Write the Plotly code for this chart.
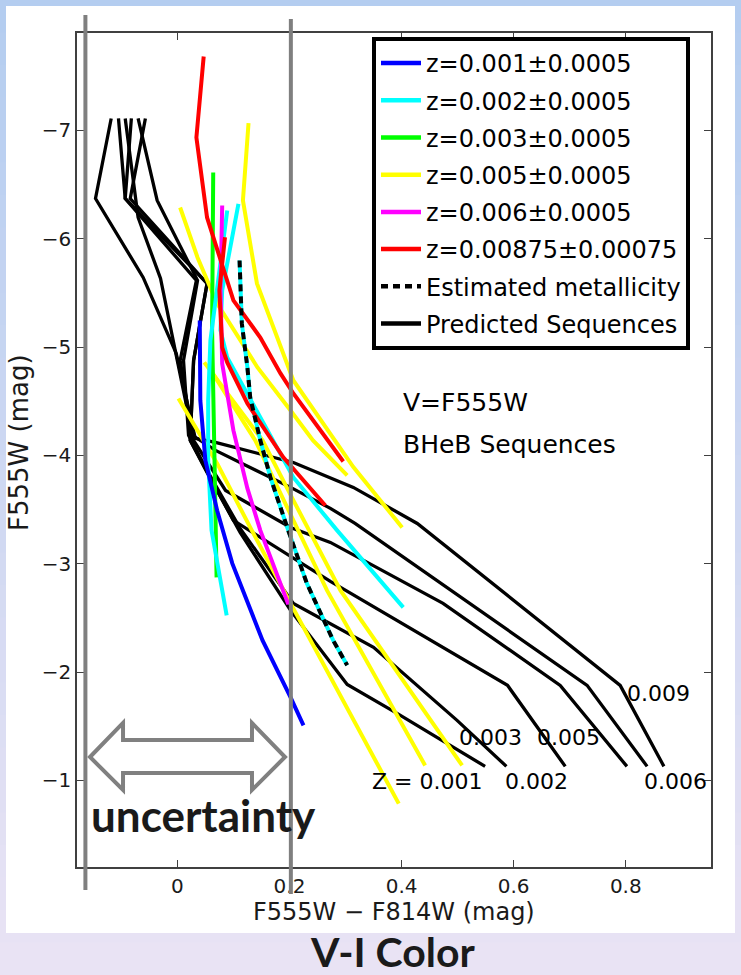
import plotly.graph_objects as go

FONT = "DejaVu Sans, Liberation Sans, sans-serif"
BOLD = "Lato, 'Open Sans', sans-serif"

# ---------------- data ----------------
x_ticks = [0, 0.2, 0.4, 0.6, 0.8]
x_tick_text = ["0", "0.2", "0.4", "0.6", "0.8"]
y_ticks = [-7, -6, -5, -4, -3, -2, -1]
y_tick_text = ["\u22127", "\u22126", "\u22125", "\u22124", "\u22123", "\u22122", "\u22121"]

blue_x = [0.040, 0.041, 0.050, 0.071, 0.098, 0.152, 0.202, 0.225]
blue_y = [-5.246, -4.508, -3.954, -3.492, -3.003, -2.292, -1.766, -1.508]

cyan1_x = [0.089, 0.073, 0.059, 0.055, 0.055, 0.061, 0.088]
cyan1_y = [-6.262, -5.616, -5.062, -4.508, -3.954, -3.308, -2.523]
cyan2_x = [0.109, 0.080, 0.077, 0.089, 0.207, 0.285, 0.403]
cyan2_y = [-6.323, -5.523, -5.154, -4.905, -3.797, -3.308, -2.597]
est_x = [0.111, 0.115, 0.125, 0.130, 0.148, 0.166, 0.196, 0.231, 0.278, 0.303]
est_y = [-5.800, -5.219, -4.812, -4.535, -4.139, -3.797, -3.335, -2.819, -2.292, -2.062]

green_x = [0.064, 0.062, 0.066, 0.068, 0.070]
green_y = [-6.613, -5.154, -4.046, -3.308, -2.874]

magenta_x = [0.080, 0.077, 0.080, 0.100, 0.125, 0.148, 0.198]
magenta_y = [-6.308, -5.523, -4.849, -4.231, -3.695, -3.308, -2.625]

red1_x = [0.047, 0.034, 0.053, 0.100, 0.148, 0.184, 0.207, 0.296]
red1_y = [-7.683, -6.936, -6.197, -5.431, -5.089, -4.757, -4.572, -3.944]
red2_x = [0.085, 0.075, 0.080, 0.089, 0.125, 0.189, 0.264]
red2_y = [-6.015, -5.523, -4.997, -4.859, -4.480, -3.982, -3.538]

yel1_x = [0.127, 0.117, 0.142, 0.173, 0.207, 0.314, 0.401]
yel1_y = [-7.068, -6.354, -5.588, -5.154, -4.692, -3.892, -3.335]
yel2_x = [0.005, 0.036, 0.071, 0.143, 0.202, 0.242, 0.303]
yel2_y = [-6.289, -5.828, -5.403, -4.812, -4.415, -4.139, -3.815]
yel3_x = [0.048, 0.152, 0.207, 0.291, 0.508]
yel3_y = [-4.859, -4.139, -3.585, -2.754, -1.138]
yel4_x = [0.002, 0.071, 0.130, 0.202, 0.395]
yel4_y = [-4.526, -3.926, -3.335, -2.634, -0.785]
yel5_x = [0.053, 0.139, 0.207, 0.267, 0.442]
yel5_y = [-4.840, -4.139, -3.400, -2.754, -1.138]

seq1_x = [-0.118, -0.146, -0.061, -0.002, 0.032, 0.068, 0.207, 0.314, 0.428, 0.790, 0.868]
seq1_y = [-7.111, -6.372, -5.643, -4.942, -4.157, -4.120, -3.935, -3.705, -3.372, -1.877, -1.129]
seq2_x = [-0.105, -0.093, 0.034, 0.005, 0.027, 0.068, 0.202, 0.273, 0.317, 0.731, 0.838]
seq2_y = [-7.111, -6.372, -5.616, -4.877, -4.185, -4.046, -3.705, -3.511, -3.372, -1.877, -1.129]
seq3_x = [-0.093, -0.070, -0.030, -0.002, 0.029, 0.086, 0.202, 0.273, 0.474, 0.683, 0.802]
seq3_y = [-7.111, -6.197, -5.634, -4.942, -4.139, -3.677, -3.335, -3.197, -2.634, -1.877, -1.129]
seq4_x = [-0.082, -0.093, 0.053, 0.029, 0.023, 0.100, 0.273, 0.392, 0.589, 0.692]
seq4_y = [-7.111, -6.372, -5.588, -4.877, -4.139, -3.400, -2.837, -2.477, -1.877, -1.129]
seq5_x = [-0.070, -0.036, 0.036, 0.011, 0.020, 0.053, 0.112, 0.207, 0.350, 0.499, 0.587]
seq5_y = [-7.111, -6.354, -5.616, -4.877, -4.185, -3.862, -3.326, -2.634, -2.228, -1.554, -1.129]
seq6_x = [-0.057, -0.084, 0.053, 0.029, 0.023, 0.053, 0.112, 0.202, 0.303, 0.392, 0.549]
seq6_y = [-7.111, -6.372, -5.588, -4.877, -4.139, -3.843, -3.289, -2.569, -1.886, -1.618, -1.129]

seq_labels = ["0.009", "0.003", "0.005", "Z = 0.001", "0.002", "0.006"]
seq_label_x = [0.858, 0.558, 0.697, 0.446, 0.640, 0.888]
seq_label_y = [-1.803, -1.397, -1.397, -0.991, -0.991, -0.991]

legend_names = ["z=0.001\u00b10.0005", "z=0.002\u00b10.0005", "z=0.003\u00b10.0005",
                "z=0.005\u00b10.0005", "z=0.006\u00b10.0005", "z=0.00875\u00b10.00075",
                "Estimated metallicity", "Predicted Sequences"]
legend_colors = ["#0000ff", "#00ffff", "#00ff00", "#ffff00", "#ff00ff", "#ff0000",
                 "black", "black"]
legend_dashes = ["solid"] * 6 + ["7px,5px", "solid"]

uncert_bounds = [-0.164, 0.2025]

# ---------------- figure ----------------
fig = go.Figure()

# legend entries (legend-only traces)
for i, (nm, col, ds) in enumerate(zip(legend_names, legend_colors, legend_dashes)):
    fig.add_trace(go.Scatter(x=[None], y=[None], mode="lines", name=nm,
                             line=dict(color=col, width=4.5, dash=ds),
                             legendgroup="g%d" % i, showlegend=True, hoverinfo="skip"))


def add_line(x, y, color, width, dash="solid"):
    fig.add_trace(go.Scatter(x=x, y=y, mode="lines",
                             line=dict(color=color, width=width, dash=dash),
                             showlegend=False, hoverinfo="skip"))


for sx, sy in [(seq1_x, seq1_y), (seq2_x, seq2_y), (seq3_x, seq3_y),
               (seq4_x, seq4_y), (seq5_x, seq5_y), (seq6_x, seq6_y)]:
    add_line(sx, sy, "black", 3.3)

for yx, yy in [(yel1_x, yel1_y), (yel2_x, yel2_y), (yel3_x, yel3_y),
               (yel4_x, yel4_y), (yel5_x, yel5_y)]:
    add_line(yx, yy, "#ffff00", 4)

add_line(green_x, green_y, "#00ff00", 4)
for cx, cy in [(cyan1_x, cyan1_y), (cyan2_x, cyan2_y), (est_x, est_y)]:
    add_line(cx, cy, "#00ffff", 4)
add_line(magenta_x, magenta_y, "#ff00ff", 4)
add_line(blue_x, blue_y, "#0000ff", 4)
for rx, ry in [(red1_x, red1_y), (red2_x, red2_y)]:
    add_line(rx, ry, "#ff0000", 4)
add_line(est_x, est_y, "black", 4, dash="7px,5px")

# ---------------- decorations ----------------
W, H = 741, 975
L, R, T, B = 77, 30, 33, 108
PW, PH = W - L - R, H - T - B


def px(xp):
    return (xp - L) / PW


def py(yp):
    return (H - B - yp) / PH


shapes = []
top_c = (180, 205, 240)
bot_c = (233, 227, 244)
n = 30
for i in range(n):
    f = i / (n - 1)
    c = tuple(int(round(top_c[k] + (bot_c[k] - top_c[k]) * f)) for k in range(3))
    y0p = H * i / n
    y1p = H * (i + 1) / n + 1
    shapes.append(dict(type="rect", xref="paper", yref="paper", layer="below",
                       x0=px(0), x1=px(W), y0=py(y1p), y1=py(y0p),
                       line=dict(width=0), fillcolor="rgb(%d,%d,%d)" % c))
shapes.append(dict(type="rect", xref="paper", yref="paper", layer="below",
                   x0=px(6), x1=px(735), y0=py(933), y1=py(6),
                   line=dict(width=0), fillcolor="white"))

shapes.append(dict(type="line", xref="x", yref="paper", x0=uncert_bounds[0], x1=uncert_bounds[0],
                   y0=py(890), y1=py(15), line=dict(color="#7f7f7f", width=4), layer="above"))
shapes.append(dict(type="line", xref="x", yref="paper", x0=uncert_bounds[1], x1=uncert_bounds[1],
                   y0=py(894), y1=py(19), line=dict(color="#7f7f7f", width=4), layer="above"))

arrow_pts = [(90, 757), (123, 723), (123, 740), (252, 740), (252, 723), (285, 757),
             (252, 790), (252, 773), (123, 773), (123, 790)]
path = "M " + " L ".join("%.4f,%.4f" % (px(a), py(b)) for a, b in arrow_pts) + " Z"
shapes.append(dict(type="path", xref="paper", yref="paper", path=path,
                   line=dict(color="#808080", width=4), fillcolor="white", layer="above"))

annotations = []
for t, lx, ly in zip(seq_labels, seq_label_x, seq_label_y):
    annotations.append(dict(x=lx, y=ly, xref="x", yref="y", text=t, showarrow=False,
                            xanchor="center", yanchor="middle",
                            font=dict(family=FONT, size=22, color="black")))
annotations.append(dict(x=px(401), y=py(402), xref="paper", yref="paper", text="V=F555W",
                        showarrow=False, xanchor="left", yanchor="middle",
                        font=dict(family=FONT, size=25, color="black")))
annotations.append(dict(x=px(401), y=py(444), xref="paper", yref="paper", text="BHeB Sequences",
                        showarrow=False, xanchor="left", yanchor="middle",
                        font=dict(family=FONT, size=25, color="black")))
annotations.append(dict(x=px(203), y=py(815), xref="paper", yref="paper", text="<b>uncertainty</b>",
                        showarrow=False, xanchor="center", yanchor="middle",
                        font=dict(family=BOLD, size=44, color="#1a1a1a")))
annotations.append(dict(x=px(393), y=py(978), xref="paper", yref="paper", text="<b>V-I Color</b>",
                        showarrow=False, xanchor="center", yanchor="bottom",
                        font=dict(family=BOLD, size=41, color="#1a1a1a")))
annotations.append(dict(x=px(394), y=py(912), xref="paper", yref="paper",
                        text="F555W \u2212 F814W (mag)", showarrow=False,
                        xanchor="center", yanchor="middle",
                        font=dict(family=FONT, size=24, color="#1a1a1a")))
annotations.append(dict(x=px(19), y=py(443), xref="paper", yref="paper",
                        text="F555W (mag)", showarrow=False, textangle=-90,
                        xanchor="center", yanchor="middle",
                        font=dict(family=FONT, size=26, color="#1a1a1a")))

axis_common = dict(ticks="inside", ticklen=7, tickwidth=1.3, tickcolor="#404040",
                   showline=True, linecolor="#404040", linewidth=1.5, mirror="ticks",
                   showgrid=False, zeroline=False,
                   tickfont=dict(family=FONT, size=20, color="#1a1a1a"))

fig.update_layout(
    width=W, height=H, autosize=False,
    margin=dict(l=L, r=R, t=T, b=B, pad=0),
    paper_bgcolor="rgb(206,214,242)",
    plot_bgcolor="white",
    xaxis=dict(range=[-0.179, 0.952], tickvals=x_ticks, ticktext=x_tick_text, **axis_common),
    yaxis=dict(range=[-0.2, -7.9], tickvals=y_ticks, ticktext=y_tick_text, **axis_common),
    legend=dict(x=px(372), y=py(37), xanchor="left", yanchor="top", bgcolor="white",
                bordercolor="black", borderwidth=4, itemwidth=40,
                traceorder="grouped", tracegroupgap=3,
                font=dict(family=FONT, size=24, color="black")),
    shapes=shapes,
    annotations=annotations,
    showlegend=True,
)

fig.write_html("out.html", config={"displayModeBar": False},
               post_script="document.body.style.margin='0px';document.body.style.overflow='hidden';")
